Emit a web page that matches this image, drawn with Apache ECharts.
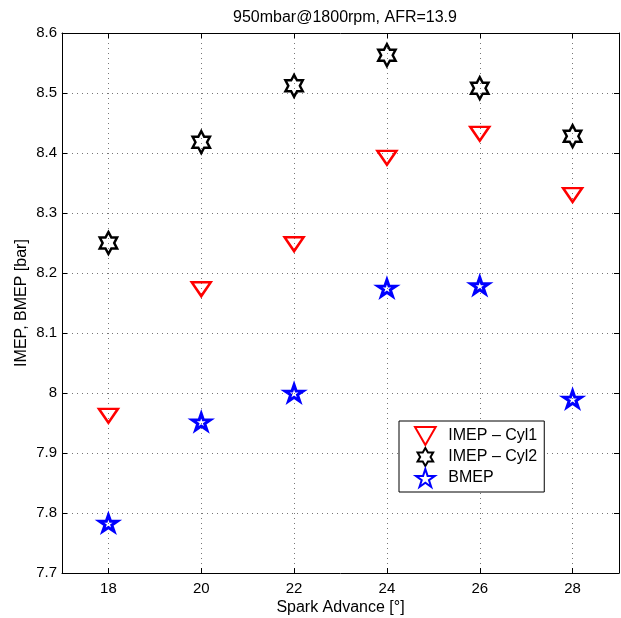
<!DOCTYPE html>
<html>
<head>
    <meta charset="utf-8" />
    <script src="https://cdn.jsdelivr.net/npm/echarts@6/dist/echarts.min.js"></script>
    <style type="text/css">
    body {
        margin: 0;
        background-color: #fff;
    }

    #chart {
        width: 621px;
        height: 618px;
    }
    </style>
</head>
<body>
    <div id="chart"></div>
    <script type="text/javascript">
    // data
    let sparkAdvance = [18, 20, 22, 24, 26, 28];
    let imepCyl1 = [7.962, 8.173, 8.248, 8.392, 8.432, 8.330];
    let imepCyl2 = [8.250, 8.418, 8.512, 8.563, 8.508, 8.428];
    let bmep = [7.783, 7.952, 8.000, 8.175, 8.179, 7.990];
    let xTicks = [18, 20, 22, 24, 26, 28];

    // marker shapes (matlab-ish)
    let triDown = 'path://M0,0 L100,0 L50,87 Z';
    let hexagram = 'path://M100,0 L128.9,50 L186.6,50 L157.7,100 L186.6,150 L128.9,150 L100,200 L71.1,150 L13.4,150 L42.3,100 L13.4,50 L71.1,50 Z';
    let pentagram = 'path://M100,0 L122.45,69.1 L195.1,69.1 L136.3,111.8 L158.8,180.9 L100,138.2 L41.2,180.9 L63.7,111.8 L4.9,69.1 L77.55,69.1 Z';

    let font = 'Liberation Sans, Arial, Helvetica, sans-serif';

    function pairs(xs, ys) {
        return xs.map(function(x, i) { return [x, ys[i]]; });
    }

    let sideAxis = {
        axisLine: { show: true, onZero: false, lineStyle: { color: '#000', width: 1 } },
        axisTick: { show: true, inside: true, length: 5, lineStyle: { color: '#000' } },
        axisLabel: { show: false },
        splitLine: { show: false }
    };

    let option = {
        animation: false,
        title: {
            text: '950mbar@1800rpm, AFR=13.9',
            left: 340,
            textAlign: 'center',
            top: 5,
            textStyle: { fontFamily: font, fontSize: 16, fontWeight: 'normal', color: '#000' }
        },
        grid: {
            left: 62,
            right: 2,
            top: 33,
            bottom: 45,
            outerBoundsMode: 'none'
        },
        legend: {
            orient: 'vertical',
            left: 399,
            top: 421,
            itemWidth: 36,
            itemHeight: 18,
            itemGap: 1,
            padding: [5, 7, 4, 15],
            borderColor: '#000',
            borderWidth: 1,
            backgroundColor: '#fff',
            textStyle: { fontFamily: font, fontSize: 16, color: '#000' },
            data: ['IMEP – Cyl1', 'IMEP – Cyl2', 'BMEP']
        },
        xAxis: [{
            type: 'value',
            position: 'bottom',
            min: 17,
            max: 29,
            name: 'Spark Advance [°]',
            nameLocation: 'middle',
            nameGap: 27,
            nameMoveOverlap: false,
            nameTextStyle: { fontFamily: font, fontSize: 16, color: '#000' },
            axisLine: { show: true, onZero: false, lineStyle: { color: '#000', width: 1 } },
            axisTick: { show: true, inside: true, length: 5, customValues: xTicks, lineStyle: { color: '#000' } },
            axisLabel: { margin: 8, customValues: xTicks, fontFamily: font, fontSize: 15, color: '#000' },
            splitLine: { show: true, lineStyle: { color: '#777', type: [1, 4], width: 1 } }
        }, Object.assign({
            type: 'value',
            position: 'top',
            min: 17,
            max: 29
        }, sideAxis, {
            axisTick: { show: true, inside: true, length: 5, customValues: xTicks, lineStyle: { color: '#000' } }
        })],
        yAxis: [{
            type: 'value',
            position: 'left',
            min: 7.7,
            max: 8.6,
            interval: 0.1,
            name: 'IMEP, BMEP [bar]',
            nameLocation: 'middle',
            nameGap: 32,
            nameMoveOverlap: false,
            nameTextStyle: { fontFamily: font, fontSize: 16, color: '#000' },
            axisLine: { show: true, onZero: false, lineStyle: { color: '#000', width: 1 } },
            axisTick: { show: true, inside: true, length: 5, lineStyle: { color: '#000' } },
            axisLabel: { margin: 5, fontFamily: font, fontSize: 15, color: '#000' },
            splitLine: { show: true, lineStyle: { color: '#777', type: [1, 4], width: 1 } }
        }, Object.assign({
            type: 'value',
            position: 'right',
            min: 7.7,
            max: 8.6,
            interval: 0.1
        }, sideAxis)],
        series: [{
            name: 'IMEP – Cyl1',
            type: 'scatter',
            data: pairs(sparkAdvance, imepCyl1),
            symbol: triDown,
            symbolKeepAspect: true,
            symbolSize: [19, 16],
            itemStyle: { color: 'rgba(0,0,0,0)', borderColor: '#ff0000', borderWidth: 2.5, opacity: 1 }
        }, {
            name: 'IMEP – Cyl2',
            type: 'scatter',
            data: pairs(sparkAdvance, imepCyl2),
            symbol: hexagram,
            symbolKeepAspect: true,
            symbolSize: [20, 22],
            itemStyle: { color: 'rgba(0,0,0,0)', borderColor: '#000000', borderWidth: 2.5, opacity: 1 }
        }, {
            name: 'BMEP',
            type: 'scatter',
            data: pairs(sparkAdvance, bmep),
            symbol: pentagram,
            symbolKeepAspect: true,
            symbolSize: [18, 17],
            itemStyle: { color: 'rgba(0,0,0,0)', borderColor: '#0000ff', borderWidth: 3, opacity: 1 }
        }]
    };

    let chart = echarts.init(document.getElementById('chart'));
    chart.setOption(option);
    </script>
</body>
</html>
